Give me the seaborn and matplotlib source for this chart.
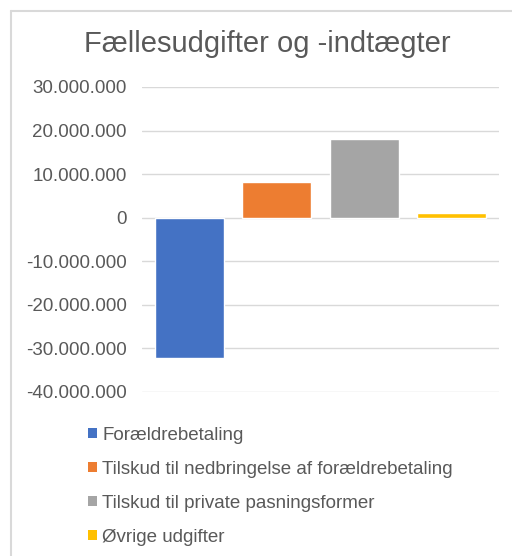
import matplotlib
matplotlib.use("Agg")
import matplotlib.pyplot as plt
import seaborn as sns
import pandas as pd
from matplotlib.patches import Patch
from matplotlib.lines import Line2D
from matplotlib.ticker import FuncFormatter

# data
categories = ["Forældrebetaling",
              "Tilskud til nedbringelse af forældrebetaling",
              "Tilskud til private pasningsformer",
              "Øvrige udgifter"]
amounts = [-32200000, 8250000, 18100000, 1050000]
colors = ["#4472C4", "#ED7D31", "#A5A5A5", "#FFC000"]
yticks = [-40000000, -30000000, -20000000, -10000000, 0, 10000000, 20000000, 30000000]

df = pd.DataFrame({"post": categories, "belob": amounts})

sns.set_theme(style="white")
plt.rcParams["font.family"] = ["Liberation Sans", "DejaVu Sans"]
txt = "#595959"
grid = "#D9D9D9"

fig = plt.figure(figsize=(5.12, 5.56), dpi=100)
W, H = 512, 556
ax = fig.add_axes([142 / W, 1 - 392 / H, 357 / W, 305 / H])

sns.barplot(data=df, x="post", y="belob", hue="post", palette=colors,
            width=0.79, legend=False, ax=ax, saturation=1)

ax.set_xlim(-0.545, 3.545)
ax.set_ylim(-40000000, 30000000)
ax.set_yticks(yticks)
ax.yaxis.set_major_formatter(FuncFormatter(lambda v, p: f"{int(v):,}".replace(",", ".")))
ax.yaxis.grid(True, color=grid, linewidth=1)
ax.set_axisbelow(True)
ax.set_xticks([])
ax.set_xlabel("")
ax.set_ylabel("")
for s in ax.spines.values():
    s.set_visible(False)
ax.tick_params(axis="y", length=0, pad=11, labelsize=13.5, labelcolor=txt)

fig.text(267 / W, 1 - 44 / H, "Fællesudgifter og -indtægter",
         ha="center", va="center", fontsize=21, color=txt)

handles = [Patch(facecolor=c, edgecolor="none") for c in colors]
fig.legend(handles, categories, loc="upper left",
           bbox_to_anchor=(80 / W, 1 - 419 / H), frameon=False,
           fontsize=13.5, labelcolor=txt, handlelength=0.5, handleheight=0.5,
           handletextpad=0.3, labelspacing=0.91, borderaxespad=0)

# light frame (top and left edges visible)
fig.add_artist(Line2D([11 / W, 1], [1 - 11 / H, 1 - 11 / H], color=grid, linewidth=1.5))
fig.add_artist(Line2D([11 / W, 11 / W], [0, 1 - 11 / H], color=grid, linewidth=1.5))

fig.savefig("out.png", dpi=100)
